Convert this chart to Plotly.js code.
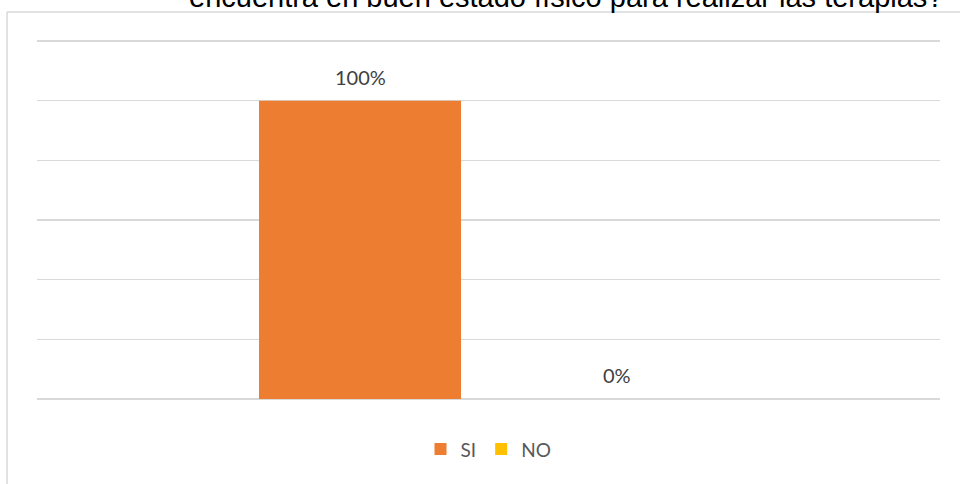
<!DOCTYPE html>
<html>
<head>
<meta charset="utf-8">
<script src="https://cdn.plot.ly/plotly-3.0.1.min.js"></script>
<style>
  html, body { margin: 0; padding: 0; background: #fff; }
  #chart { width: 960px; height: 484px; }
</style>
</head>
<body>
<div id="chart"></div>
<script>
// Data
const titleText = "encuentra en buen estado físico para realizar las terapias?";
const seriesNames = ["SI", "NO"];
const seriesValues = [1.0, 0.0];
const seriesLabels = ["100%", "0%"];
const seriesColors = ["#ED7D31", "#FFC000"];
const yTicks = [0, 0.2, 0.4, 0.6, 0.8, 1.0, 1.2];

const labelFont = "Lato, 'Open Sans', sans-serif";

const traces = seriesNames.map((name, i) => ({
  type: "bar",
  name: name,
  x: [name],
  y: [seriesValues[i]],
  width: 0.786,
  marker: { color: seriesColors[i], line: { width: 0 } },
  hoverinfo: "skip"
}));

const annotations = seriesNames.map((name, i) => ({
  x: name,
  y: seriesValues[i],
  xref: "x",
  yref: "y",
  text: seriesLabels[i],
  showarrow: false,
  yanchor: "middle",
  yshift: 24,
  font: { family: labelFont, size: 20, color: "#404040" }
}));

// plot area: top 40px, bottom 399px -> 359px tall
const plotTop = 40, plotH = 359;

annotations.push({
  xref: "paper",
  yref: "paper",
  x: (187 - 37) / 903,
  xanchor: "left",
  y: 1 + (plotTop + 3) / plotH,
  yanchor: "middle",
  text: titleText,
  showarrow: false,
  font: { family: "'Liberation Sans', Arial, sans-serif", size: 29, color: "#000000" }
});

const layout = {
  width: 960,
  height: 484,
  margin: { l: 37, r: 20, t: plotTop, b: 85, pad: 0 },
  paper_bgcolor: "#ffffff",
  plot_bgcolor: "#ffffff",
  barmode: "overlay",
  showlegend: true,
  legend: {
    orientation: "h",
    x: 0.5,
    xanchor: "center",
    y: -0.14,
    yanchor: "middle",
    font: { family: labelFont, size: 19, color: "#595959" },
    itemclick: false,
    traceorder: "normal",
    itemwidth: 30
  },
  xaxis: {
    type: "category",
    categoryorder: "array",
    categoryarray: seriesNames,
    range: [-1.257, 2.257],
    showticklabels: false,
    showgrid: false,
    zeroline: false,
    showline: false,
    ticks: ""
  },
  yaxis: {
    range: [0, 1.2034],
    tickvals: yTicks,
    showticklabels: false,
    showgrid: true,
    gridcolor: "#d9d9d9",
    gridwidth: 1.5,
    zeroline: true,
    zerolinecolor: "#d9d9d9",
    zerolinewidth: 1.5,
    showline: false,
    ticks: ""
  },
  annotations: annotations,
  shapes: [
    { type: "line", xref: "paper", yref: "paper",
      x0: (7 - 37) / 903, x1: (7 - 37) / 903, y0: (399 - 490) / plotH, y1: 1 + (plotTop - 12) / plotH,
      line: { color: "#d9d9d9", width: 1.5 } },
    { type: "line", xref: "paper", yref: "paper",
      x0: (7 - 37) / 903, x1: (965 - 37) / 903, y0: 1 + (plotTop - 12) / plotH, y1: 1 + (plotTop - 12) / plotH,
      line: { color: "#d9d9d9", width: 1.5 } }
  ]
};

Plotly.newPlot("chart", traces, layout, { staticPlot: true, displayModeBar: false });
</script>
</body>
</html>
